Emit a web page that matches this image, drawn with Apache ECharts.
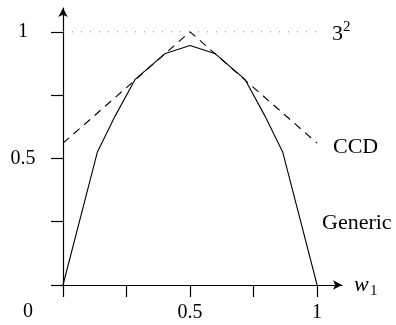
<!DOCTYPE html>
<html>
<head>
<meta charset="utf-8">
<script src="https://cdn.jsdelivr.net/npm/echarts@6/dist/echarts.min.js"></script>
<style>
  html, body { margin: 0; padding: 0; background: #fff; }
  #main { width: 396px; height: 325px; }
</style>
</head>
<body>
<div id="main"></div>
<script>
// values
const genericW = [0, 0.135, 0.205, 0.283, 0.4, 0.5, 0.6, 0.717, 0.795, 0.865, 1];
const genericVals = [0, 0.524, 0.667, 0.811, 0.913, 0.946, 0.913, 0.811, 0.667, 0.524, 0];
const ccdW = [0, 0.5, 1];
const ccdVals = [0.56, 1, 0.56];
const boundW = [0, 1];
const boundVals = [1, 1];
const xTicks = [0, 0.25, 0.5, 0.75, 1];
const xTickLabels = [0.5, 1];
const yTicks = [0, 0.25, 0.5, 0.75, 1];
const yTickLabels = [0.5, 1];

function pairs(xs, ys) {
  return xs.map((x, i) => [x, ys[i]]);
}

var myChart = echarts.init(document.getElementById('main'));
var serif = 'Liberation Serif';

var option = {
  animation: false,
  grid: { left: 63, top: 8, width: 279, height: 277 },
  xAxis: {
    type: 'value',
    min: 0,
    max: 1.098,
    splitLine: { show: false },
    axisLine: {
      lineStyle: { color: '#000', width: 1.2 },
      symbol: ['none', 'arrow'],
      symbolSize: [7, 9]
    },
    axisTick: { customValues: xTicks, length: 12, lineStyle: { color: '#000', width: 1.2 } },
    axisLabel: {
      customValues: xTickLabels,
      margin: 18,
      color: '#000',
      fontFamily: serif,
      fontSize: 20
    }
  },
  yAxis: {
    type: 'value',
    min: 0,
    max: 1.094,
    splitLine: { show: false },
    axisLine: {
      lineStyle: { color: '#000', width: 1.2 },
      symbol: ['none', 'arrow'],
      symbolSize: [7, 9]
    },
    axisTick: { customValues: yTicks, length: 12, lineStyle: { color: '#000', width: 1.2 } },
    axisLabel: {
      customValues: yTickLabels,
      margin: 40,
      align: 'center',
      color: '#000',
      fontFamily: serif,
      fontSize: 20
    }
  },
  series: [
    {
      name: 'bound',
      type: 'line',
      data: pairs(boundW, boundVals),
      symbol: 'none',
      lineStyle: { color: '#888', width: 1, type: [1, 8] }
    },
    {
      name: 'CCD',
      type: 'line',
      data: pairs(ccdW, ccdVals),
      symbol: 'none',
      lineStyle: { color: '#000', width: 1.1, type: [8, 6] }
    },
    {
      name: 'Generic',
      type: 'line',
      data: pairs(genericW, genericVals),
      symbol: 'none',
      lineStyle: { color: '#000', width: 1.1 }
    }
  ],
  graphic: [
    { type: 'text', style: { x: 28, y: 312, text: '0', font: '20px ' + serif, fill: '#000', align: 'center', verticalAlign: 'middle' } },
    { type: 'text', style: { x: 332, y: 34, text: '3', font: '22px ' + serif, fill: '#000', align: 'left', verticalAlign: 'middle' } },
    { type: 'text', style: { x: 343, y: 27, text: '2', font: '15px ' + serif, fill: '#000', align: 'left', verticalAlign: 'middle' } },
    { type: 'text', style: { x: 333, y: 147, text: 'CCD', font: '22px ' + serif, fill: '#000', align: 'left', verticalAlign: 'middle' } },
    { type: 'text', style: { x: 322, y: 223, text: 'Generic', font: '22px ' + serif, fill: '#000', align: 'left', verticalAlign: 'middle' } },
    { type: 'text', style: { x: 354, y: 285, text: 'w', font: 'italic 22px ' + serif, fill: '#000', align: 'left', verticalAlign: 'middle' } },
    { type: 'text', style: { x: 370, y: 291, text: '1', font: '15px ' + serif, fill: '#000', align: 'left', verticalAlign: 'middle' } }
  ]
};

myChart.setOption(option);
</script>
</body>
</html>
